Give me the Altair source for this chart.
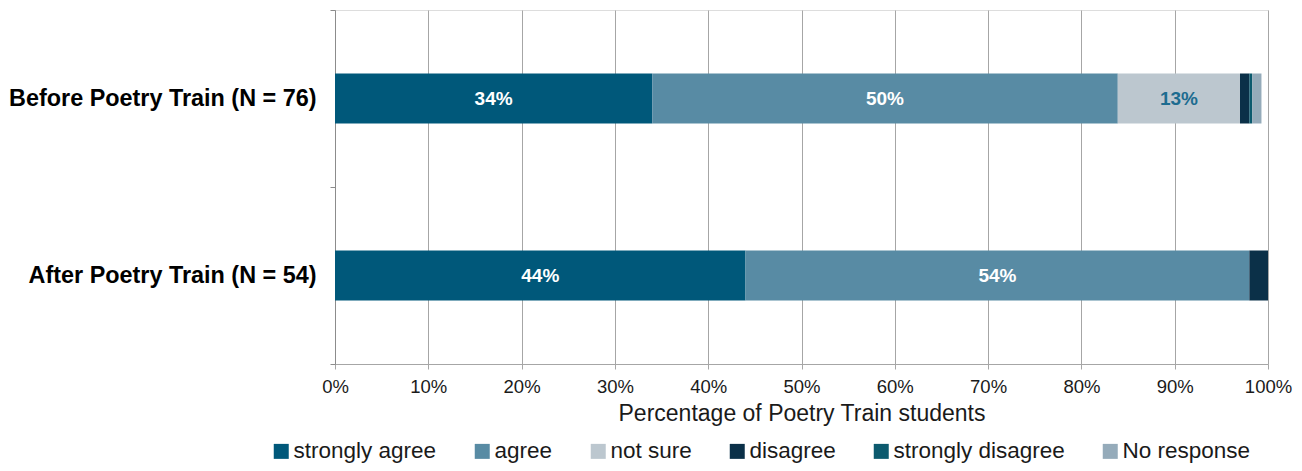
import altair as alt
import pandas as pd

groups = ["Before Poetry Train (N = 76)", "After Poetry Train (N = 54)"]
responses = ["strongly agree", "agree", "not sure", "disagree", "strongly disagree", "No response"]
before_values = [34.0, 49.9, 13.1, 1.0, 0.3, 1.0]
after_values = [44.0, 54.0, 0.0, 2.0, 0.0, 0.0]
colors = ["#00587A", "#588BA4", "#BCC7CF", "#0B3048", "#0C5A6E", "#95ABBA"]
x_ticks = [0, 10, 20, 30, 40, 50, 60, 70, 80, 90, 100]

rows = []
for g, vals in zip(groups, [before_values, after_values]):
    for i, (r, v) in enumerate(zip(responses, vals)):
        rows.append({"group": g, "response": r, "order": i, "pct": v})
df = pd.DataFrame(rows)

FONT = "Liberation Sans"

base = alt.Chart(df).transform_stack(
    stack="pct", groupby=["group"], as_=["start", "end"],
    sort=[alt.SortField("order", order="ascending")]
).transform_calculate(
    mid="(datum.start + datum.end) / 2",
    label="format(datum.pct, '.0f') + '%'",
    tcolor="datum.response == 'not sure' ? '#1D6C90' : '#FFFFFF'"
)

y_enc = alt.Y(
    "group:N", sort=groups,
    scale=alt.Scale(paddingInner=0, paddingOuter=0),
    axis=alt.Axis(
        title=None, tickBand="extent", ticks=True, tickSize=5, tickColor="#8C8C8C",
        domainColor="#8C8C8C", grid=False, labelFontSize=23.4, labelFontWeight="bold",
        labelColor="#000000", labelPadding=14, labelFont=FONT, labelLimit=400
    )
)

bars = base.mark_bar(size=50).encode(
    x=alt.X(
        "start:Q", scale=alt.Scale(domain=[0, 100], nice=False),
        axis=alt.Axis(
            values=x_ticks, labelExpr="datum.value + '%'", grid=True,
            gridColor="#A6A6A6", domainColor="#A6A6A6", tickColor="#A6A6A6",
            tickSize=5, labelFontSize=18.5, labelColor="#1A1A1A", labelPadding=8,
            labelFlush=False, labelOverlap=False,
            labelFont=FONT, title="Percentage of Poetry Train students",
            titleFontSize=23, titleFontWeight="normal", titleColor="#1A1A1A",
            titleFont=FONT, titlePadding=7
        )
    ),
    x2="end:Q",
    y=y_enc,
    color=alt.Color(
        "response:N",
        scale=alt.Scale(domain=responses, range=colors),
        legend=alt.Legend(
            title=None, orient="none", legendX=-65, legendY=430,
            direction="horizontal", columns=6, symbolType="square",
            symbolSize=225, symbolStrokeWidth=0, labelFontSize=22.5,
            labelFont=FONT, labelColor="#1A1A1A", columnPadding=34,
            labelOffset=1, labelLimit=300
        )
    )
)

labels = base.transform_filter("datum.pct >= 5").mark_text(
    fontSize=19, fontWeight="bold", font=FONT, baseline="middle", align="center"
).encode(
    x="mid:Q",
    y=alt.Y("group:N", sort=groups),
    text="label:N",
    color=alt.Color("tcolor:N", scale=None)
)

chart = alt.layer(bars, labels).properties(
    width=933, height=354,
    autosize=alt.AutoSizeParams(type="none"),
    padding={"left": 327, "top": 2, "right": 26, "bottom": 99}
).configure_view(stroke=None).configure(font=FONT)

chart.save("out.html", embed_options={"renderer": "svg", "actions": False})
